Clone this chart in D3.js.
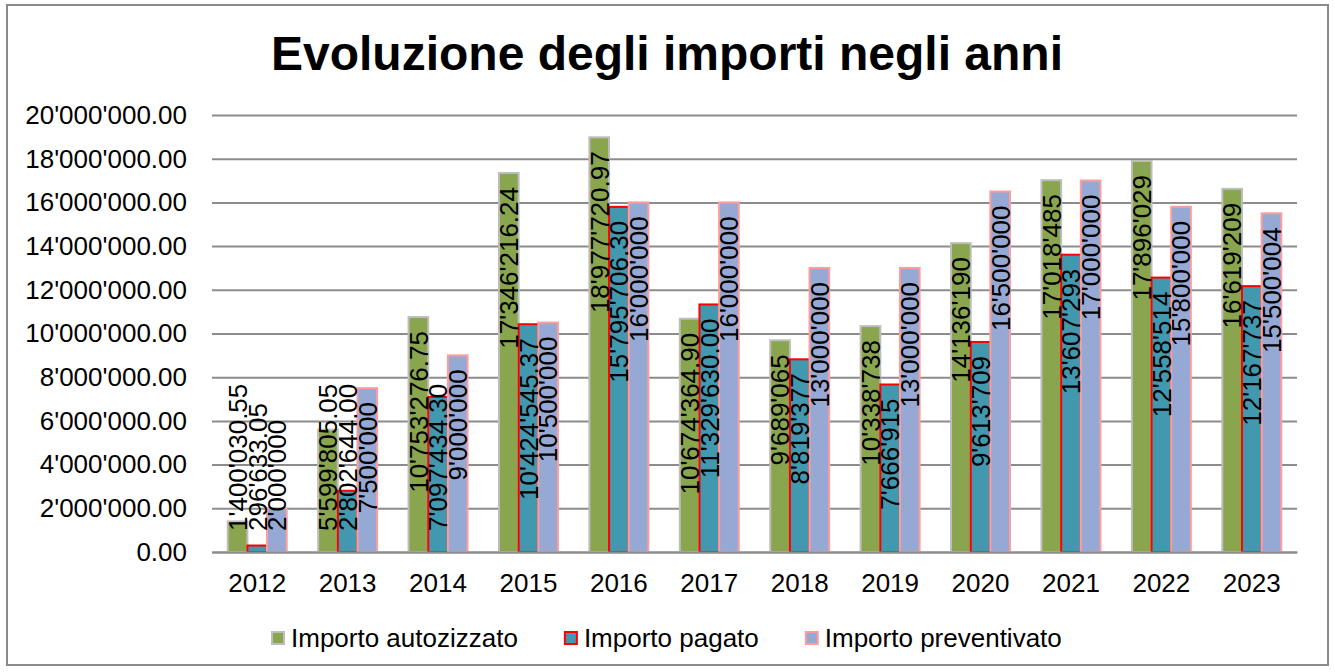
<!DOCTYPE html>
<html>
<head>
<meta charset="utf-8">
<script src="https://cdn.jsdelivr.net/npm/d3@7"></script>
<style>
  body { margin: 0; background: #fff; }
  svg { display: block; font-family: "Liberation Sans", Arial, sans-serif; }
</style>
</head>
<body>
<svg id="chart" width="1335" height="672"></svg>
<script>
const years = ["2012", "2013", "2014", "2015", "2016", "2017", "2018", "2019", "2020", "2021", "2022", "2023"];
const autorizzato = [1400030.55, 5599805.05, 10753276.75, 17346216.24, 18977720.97, 10674364.90, 9689065, 10338738, 14136190, 17018485, 17896029, 16619209];
const pagato = [296633.05, 2802644.00, 7097434.30, 10424545.37, 15795706.30, 11329630.00, 8819377, 7666915, 9613709, 13607293, 12558514, 12167737];
const preventivato = [2000000, 7500000, 9000000, 10500000, 16000000, 16000000, 13000000, 13000000, 16500000, 17000000, 15800000, 15500004];
// decimals shown in the data labels, per year
const labelDecimals = [2, 2, 2, 2, 2, 2, 0, 0, 0, 0, 0, 0];
const yTicks = [0, 2e6, 4e6, 6e6, 8e6, 10e6, 12e6, 14e6, 16e6, 18e6, 20e6];

const series = [
  { name: "Importo autozizzato", values: autorizzato, fill: "#89a54e", stroke: "#bdbdbd", decimals: labelDecimals },
  { name: "Importo pagato", values: pagato, fill: "#4198af", stroke: "#ff0000", decimals: labelDecimals },
  { name: "Importo preventivato", values: preventivato, fill: "#95a9d4", stroke: "#ff9c9c", decimals: years.map(() => 0) }
];

const locale = d3.formatLocale({ decimal: ".", thousands: "'", grouping: [3], currency: ["", ""] });
const fmt2 = locale.format(",.2f");
const fmt0 = locale.format(",.0f");

const svg = d3.select("#chart");
const plot = { left: 212, right: 1297, top: 115, bottom: 552 };

// outer frame
svg.append("rect")
  .attr("x", 7).attr("y", 5).attr("width", 1321).attr("height", 660)
  .attr("fill", "#fff").attr("stroke", "#8a8a8a").attr("stroke-width", 2);

svg.append("text")
  .attr("x", 667).attr("y", 70)
  .attr("text-anchor", "middle")
  .attr("font-size", 48).attr("font-weight", "bold")
  .text("Evoluzione degli importi negli anni");

const x = d3.scaleBand().domain(years).range([plot.left, plot.right]).padding(0);
const xs = d3.scaleBand().domain(d3.range(series.length)).range([0, x.bandwidth()]).paddingInner(0).paddingOuter(0.8);
const y = d3.scaleLinear().domain([0, 20e6]).range([plot.bottom, plot.top]);

// gridlines
svg.append("g")
  .attr("transform", `translate(${plot.left},0)`)
  .call(d3.axisLeft(y).tickValues(yTicks).tickSize(-(plot.right - plot.left)).tickFormat(""))
  .call(g => g.select(".domain").remove())
  .call(g => g.selectAll("line").attr("stroke", "#8c8c8c").attr("stroke-width", 2));

// y labels
svg.append("g")
  .attr("transform", `translate(${plot.left},0)`)
  .call(d3.axisLeft(y).tickValues(yTicks).tickSize(0).tickPadding(25).tickFormat(fmt2))
  .call(g => g.select(".domain").remove())
  .call(g => g.selectAll("text").attr("font-size", 26).attr("fill", "#000").attr("font-family", null));

// bars
const groups = svg.append("g").selectAll("g")
  .data(series).join("g");

groups.selectAll("rect")
  .data((s, si) => s.values.map((v, i) => ({ v, i, si, s })))
  .join("rect")
  .attr("x", d => x(years[d.i]) + xs(d.si))
  .attr("y", d => y(d.v))
  .attr("width", xs.bandwidth())
  .attr("height", d => y(0) - y(d.v))
  .attr("fill", d => d.s.fill)
  .attr("stroke", d => d.s.stroke)
  .attr("stroke-width", 2);

// x axis
svg.append("g")
  .attr("transform", `translate(0,${plot.bottom})`)
  .call(d3.axisBottom(x).tickSize(0).tickPadding(22))
  .call(g => g.select(".domain").attr("stroke", "#8c8c8c").attr("stroke-width", 2))
  .call(g => g.selectAll("text").attr("font-size", 26).attr("fill", "#000").attr("font-family", null));

// data labels, rotated
const fs = 26;
const labelLayer = svg.append("g");
series.forEach((s, si) => {
  s.values.forEach((v, i) => {
    const cx = x(years[i]) + xs(si) + xs.bandwidth() / 2;
    const txt = s.decimals[i] ? fmt2(v) : fmt0(v);
    const t = labelLayer.append("text")
      .attr("font-size", fs)
      .attr("text-anchor", "start")
      .text(txt);
    const len = t.node().getComputedTextLength();
    const bottom = Math.min(plot.bottom - 21, y(v) + 14 + len);
    t.attr("transform", `translate(${cx + fs * 0.358},${bottom}) rotate(-90)`);
  });
});

// legend
const legend = svg.append("g");
let lx = 272;
series.forEach(s => {
  legend.append("rect")
    .attr("x", lx).attr("y", 632).attr("width", 12).attr("height", 12)
    .attr("fill", s.fill).attr("stroke", s.stroke).attr("stroke-width", 2);
  const t = legend.append("text")
    .attr("x", lx + 19).attr("y", 647)
    .attr("font-size", 26)
    .text(s.name);
  lx += 19 + t.node().getComputedTextLength() + 47;
});
</script>
</body>
</html>
